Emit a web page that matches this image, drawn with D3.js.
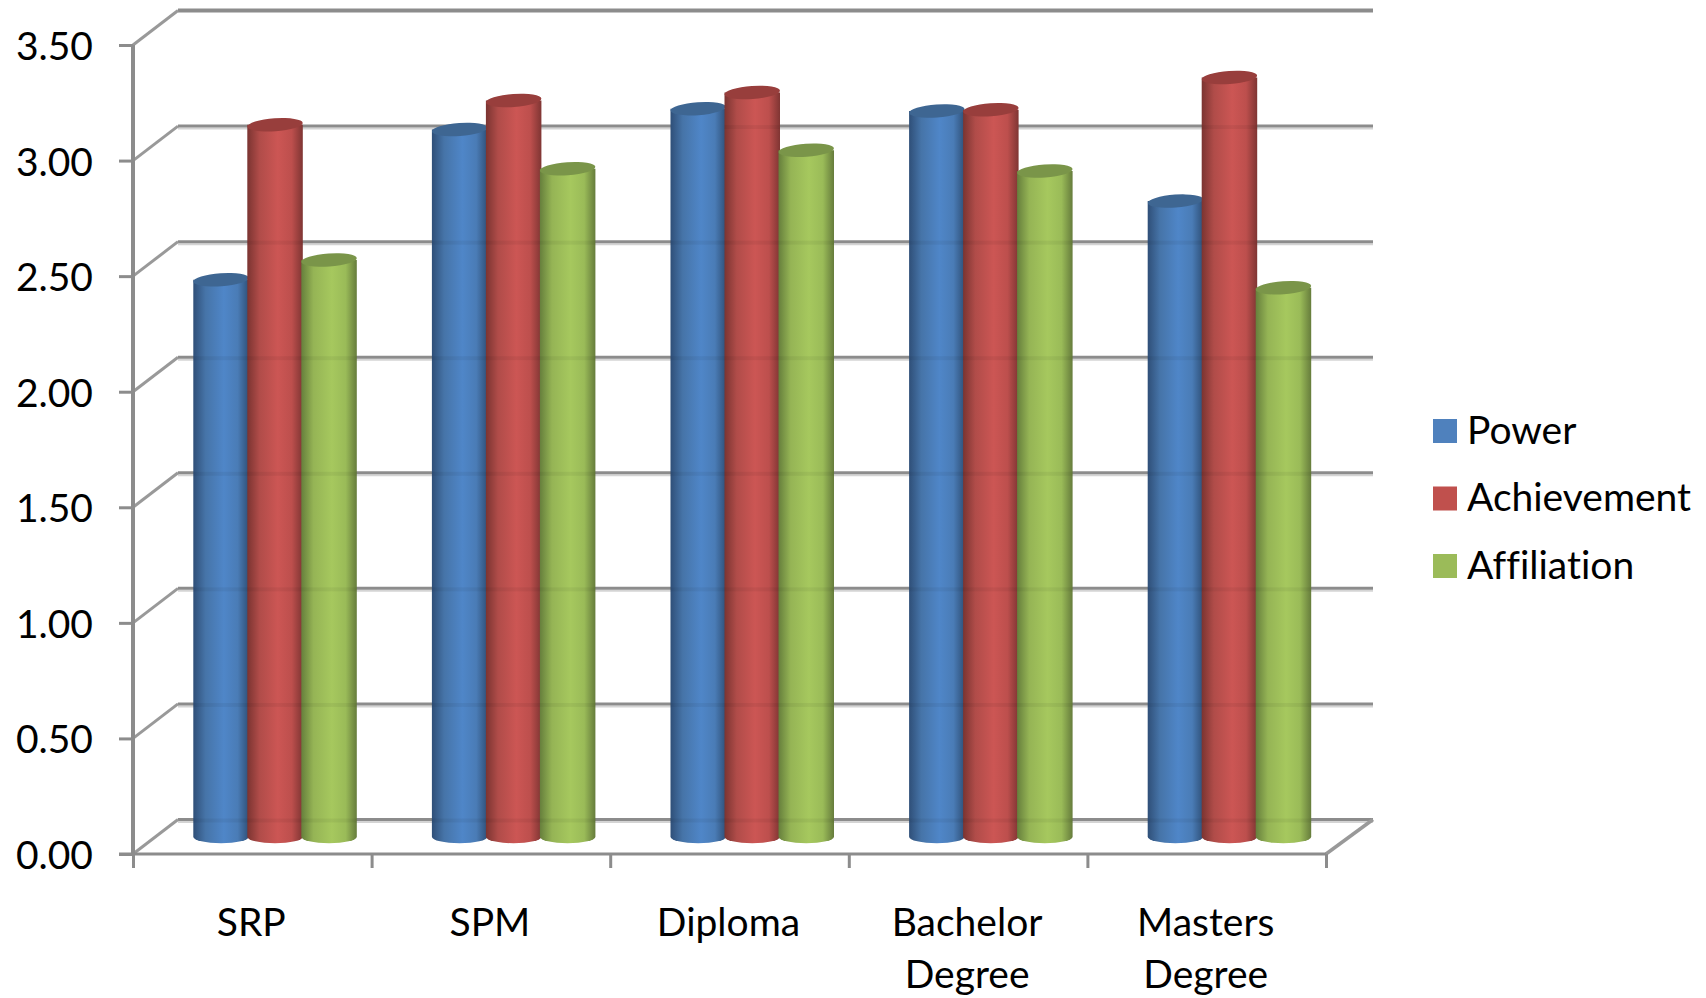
<!DOCTYPE html>
<html>
<head>
<meta charset="utf-8">
<script src="https://cdn.jsdelivr.net/npm/d3@7/dist/d3.min.js"></script>
<style>
  html, body { margin: 0; padding: 0; background: #fff; }
  svg { display: block; }
  text { font-family: Lato, "Open Sans", sans-serif; fill: #000; font-variant-ligatures: none; }
</style>
</head>
<body>
<svg id="chart" width="1706" height="998"></svg>
<script>
// Motivation scores by education level
const categories = ["SRP", "SPM", "Diploma", "Bachelor Degree", "Masters Degree"];
const seriesNames = ["Power", "Achievement", "Affiliation"];
const power = [2.41, 3.06, 3.15, 3.14, 2.75];
const achievement = [3.08, 3.185, 3.22, 3.145, 3.285];
const affiliation = [2.495, 2.89, 2.97, 2.88, 2.375];
const seriesValues = [power, achievement, affiliation];
const yTicks = [0, 0.5, 1, 1.5, 2, 2.5, 3, 3.5];

const sideColors = [
  ["#2f4f78", "#4674a8", "#4f86c8", "#4a7cb6", "#2f5078"],
  ["#7b3431", "#b04c49", "#cc5654", "#bd4f4d", "#7f3533"],
  ["#667f3c", "#95b455", "#a6c85e", "#9abb58", "#667c3c"]
];
const capColors = ["#3e6692", "#983e3c", "#7a9549"];
const legendColors = ["#4f81bd", "#c0504d", "#9bbb59"];

// Plot box: front plane of the pseudo-3D frame, plus the depth offset of the back wall
const frontLeft = 133, frontRight = 1326, frontBase = 854, frontTop = 45;
const depthX = 45, depthY = -34.5;
const gridColor = "#8c8c8c", shadowColor = "#d4d4d4";
const labelSize = 39;

const svg = d3.select("#chart");
const y = d3.scaleLinear().domain([0, 3.5]).range([frontBase, frontTop]);
const x = d3.scaleBand().domain(categories).range([frontLeft, frontRight]);
const inner = d3.scaleBand().domain(seriesNames).range([-81.5, 80.5]);

const defs = svg.append("defs");
sideColors.forEach((stops, i) => {
  const g = defs.append("linearGradient").attr("id", "side" + i)
    .attr("x1", 0).attr("x2", 1).attr("y1", 0).attr("y2", 0);
  [0, 0.22, 0.55, 0.8, 1].forEach((o, k) =>
    g.append("stop").attr("offset", o).attr("stop-color", stops[k]));
});

// Back wall gridlines, their soft shadows and the diagonal links to the front plane
const wall = svg.append("g");
yTicks.forEach(t => {
  const by = y(t) + depthY;
  if (t < 3.5) {
    wall.append("line").attr("x1", frontLeft + depthX).attr("x2", frontRight + depthX + 2)
      .attr("y1", by + 2.5).attr("y2", by + 2.5)
      .attr("stroke", shadowColor).attr("stroke-width", 2);
  }
  wall.append("line").attr("x1", frontLeft + depthX).attr("x2", frontRight + depthX + 2)
    .attr("y1", by).attr("y2", by)
    .attr("stroke", gridColor).attr("stroke-width", t === 3.5 ? 4 : 3);
  wall.append("line").attr("x1", frontLeft).attr("x2", frontLeft + depthX)
    .attr("y1", y(t)).attr("y2", by)
    .attr("stroke", "#999").attr("stroke-width", 3);
});
wall.append("line")
  .attr("x1", frontRight).attr("y1", frontBase)
  .attr("x2", frontRight + depthX + 2).attr("y2", frontBase + depthY)
  .attr("stroke", "#999").attr("stroke-width", 3.5);

// Value axis
const yAxis = svg.append("g").attr("transform", `translate(${frontLeft},0)`)
  .call(d3.axisLeft(y).tickValues(yTicks).tickFormat(d3.format(".2f")).tickSize(14).tickPadding(26));
yAxis.select(".domain").attr("stroke", gridColor).attr("stroke-width", 4).attr("d", `M0,${frontTop}V${frontBase}`);
yAxis.selectAll(".tick line").attr("stroke", gridColor).attr("stroke-width", 3);
yAxis.selectAll("text").attr("font-size", labelSize).attr("dy", "0.37em")
  .style("font-family", "Lato").attr("fill", "#000");

// Category axis with ticks on the band boundaries
const boundaries = categories.map(c => x(c)).concat([frontRight]);
const xEdge = d3.scaleLinear().domain([frontLeft, frontRight]).range([frontLeft, frontRight]);
const xAxis = svg.append("g").attr("transform", `translate(0,${frontBase})`)
  .call(d3.axisBottom(xEdge).tickValues(boundaries).tickFormat("").tickSize(14));
xAxis.select(".domain").attr("stroke", gridColor).attr("stroke-width", 3)
  .attr("d", `M${frontLeft - 14},0H${frontRight}`);
xAxis.selectAll(".tick line").attr("stroke", gridColor).attr("stroke-width", 3);

const catLabels = svg.append("g").selectAll("text").data(categories).join("text")
  .attr("text-anchor", "middle").attr("font-size", labelSize)
  .attr("x", d => x(d) + x.bandwidth() / 2 - 1);
catLabels.each(function (d) {
  d3.select(this).selectAll("tspan").data(d.split(" ")).join("tspan")
    .attr("x", d3.select(this).attr("x"))
    .attr("y", (w, i) => 936 + i * 52)
    .text(w => w);
});

// Cylinders, drawn series by series so later ones overlap earlier neighbours
const baseY = frontBase + depthY / 2;
const groupX = c => x(c) + x.bandwidth() / 2 + depthX / 2;
const barW = inner.bandwidth() + 1.5, capRy = 6.5, capTilt = -4;
const levelHeight = v => y(0) - y(v);

categories.forEach((c, ci) => {
  const g = svg.append("g");
  seriesNames.forEach((s, si) => {
    const v = seriesValues[si][ci];
    const left = groupX(c) + inner(s);
    const cx = left + barW / 2;
    const topY = baseY - levelHeight(v);
    g.append("path")
      .attr("d", `M${left},${topY}V${baseY}A${barW / 2},${capRy} 0 0 0 ${left + barW},${baseY}V${topY}Z`)
      .attr("fill", `url(#side${si})`);
    g.append("ellipse")
      .attr("cx", cx).attr("cy", topY).attr("rx", barW / 2).attr("ry", capRy)
      .attr("transform", `rotate(${capTilt} ${cx} ${topY})`)
      .attr("fill", capColors[si]);
    // Faint shadow of the wall gridlines showing through each cylinder
    yTicks.filter(t => t < v - 0.2).forEach(t => {
      g.append("rect").attr("x", left).attr("width", barW)
        .attr("y", y(t) + depthY - 1).attr("height", 4)
        .attr("fill", "#000").attr("opacity", 0.05);
    });
  });
});

// Legend
const legendY = d3.scalePoint().domain(seriesNames).range([431, 566]);
const legend = svg.append("g").selectAll("g").data(seriesNames).join("g")
  .attr("transform", d => `translate(1433,${legendY(d)})`);
legend.append("rect").attr("y", -12).attr("width", 24).attr("height", 24)
  .attr("fill", (d, i) => legendColors[i]);
legend.append("text").attr("x", 34).attr("dy", "0.33em").attr("font-size", labelSize).text(d => d);
</script>
</body>
</html>
